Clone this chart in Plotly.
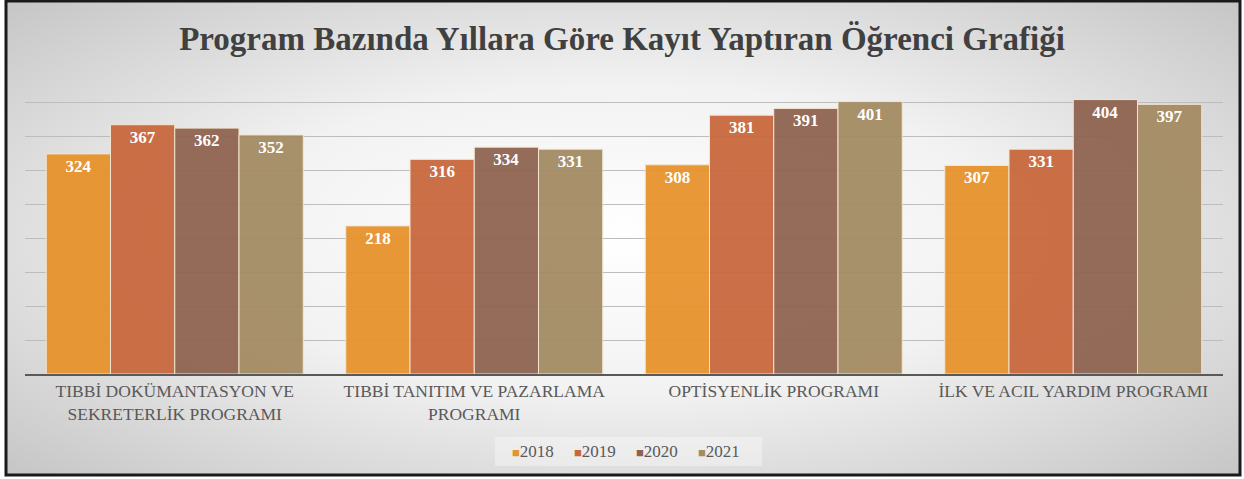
import base64
import plotly.graph_objects as go

# data
programs = [
    "TIBBİ DOKÜMANTASYON VE<br>SEKRETERLİK PROGRAMI",
    "TIBBİ TANITIM VE PAZARLAMA<br>PROGRAMI",
    "OPTİSYENLİK PROGRAMI",
    "İLK VE ACIL YARDIM PROGRAMI",
]
years = ["2018", "2019", "2020", "2021"]
v2018 = [324, 218, 308, 307]
v2019 = [367, 316, 381, 331]
v2020 = [362, 334, 391, 404]
v2021 = [352, 331, 401, 397]
series = [v2018, v2019, v2020, v2021]
colors = ["#E8922C", "#C8673C", "#8F6350", "#A38B62"]

title = "Program Bazında Yıllara Göre Kayıt Yaptıran Öğrenci Grafiği"
serif = "Liberation Serif"

W, H = 1244, 479
ml, mr, mt, mb = 25, 21, 68, 105
pw, ph = W - ml - mr, H - mt - mb


# pixel -> paper coords, for the frame, background and legend
def px(x):
    return (x - ml) / pw


def py(y):
    return (H - mb - y) / ph


fig = go.Figure()
for name, vals, col in zip(years, series, colors):
    fig.add_trace(go.Bar(
        x=programs, y=vals, name=name, showlegend=False,
        marker=dict(color=col, opacity=0.94,
                    line=dict(color="#F3E6D0", width=1)),
        text=vals, textposition="inside", insidetextanchor="end",
        textfont=dict(family=serif, size=17, color="white", weight="bold"),
        textangle=0,
    ))

# compact legend like the excel one: small square right before the year
fig.add_shape(type="rect", xref="paper", yref="paper",
              x0=px(495), x1=px(762), y0=py(466), y1=py(437),
              fillcolor="rgba(255,255,255,0.35)", line_width=0, layer="below")
for i, (y, c) in enumerate(zip(years, colors)):
    fig.add_annotation(
        text=f"<span style='color:{c};font-size:13px'>■</span>{y}",
        xref="paper", yref="paper", x=px(510 + 62 * i), y=py(451),
        xanchor="left", yanchor="middle", showarrow=False,
        font=dict(family=serif, size=17, color="#595959"),
    )

# radial grey background like the office chart style
svg = (
    '<svg xmlns="http://www.w3.org/2000/svg" width="1000" height="400" '
    'preserveAspectRatio="none"><defs><radialGradient id="g" cx="50%" cy="50%" r="72%">'
    '<stop offset="0" stop-color="#ffffff"/><stop offset="0.45" stop-color="#f2f2f2"/>'
    '<stop offset="1" stop-color="#c4c4c4"/></radialGradient></defs>'
    '<rect width="1000" height="400" fill="url(#g)"/></svg>'
)
src = "data:image/svg+xml;base64," + base64.b64encode(svg.encode()).decode()

fx0, fx1, fy0, fy1 = 6, 1240, 1, 475
fig.add_layout_image(
    source=src, xref="paper", yref="paper",
    x=px(fx0), y=py(fy0), sizex=px(fx1) - px(fx0), sizey=py(fy0) - py(fy1),
    xanchor="left", yanchor="top", sizing="stretch", layer="below",
)
fig.add_shape(
    type="rect", xref="paper", yref="paper",
    x0=px(fx0), x1=px(fx1), y0=py(fy1), y1=py(fy0),
    line=dict(color="#1a1a1a", width=3), layer="above",
)

fig.update_layout(
    width=W, height=H,
    margin=dict(l=ml, r=mr, t=mt, b=mb),
    paper_bgcolor="white", plot_bgcolor="rgba(0,0,0,0)",
    barmode="group", bargap=0.142, bargroupgap=0,
    title=dict(text=title, x=0.5, xanchor="center", y=1 - 38 / H, yanchor="middle",
               font=dict(family=serif, size=33, color="#404040", weight="bold")),
)
fig.update_xaxes(showline=True, linecolor="#595959", linewidth=2, ticks="",
                 tickfont=dict(family=serif, size=17.5, color="#595959"))
fig.update_yaxes(range=[0, 450.5], dtick=50, showticklabels=False, zeroline=False,
                 showgrid=True, gridcolor="#bdbdbd", gridwidth=1)

# drop the default page margin so the chart sits at 0,0 in the window
fig.write_html("out.html", config={"displayModeBar": False},
               post_script="document.body.style.margin='0';"
                           "document.body.style.overflow='hidden';")
